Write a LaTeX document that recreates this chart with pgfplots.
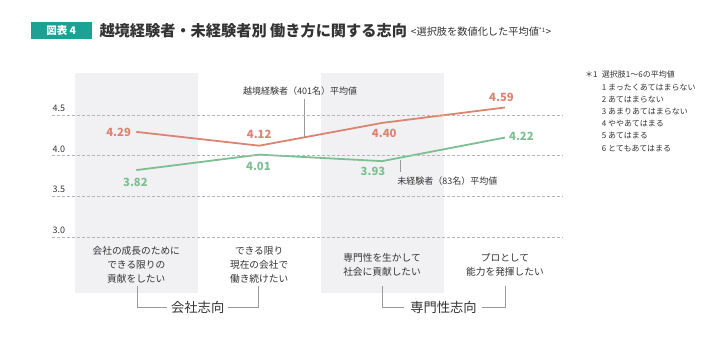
\documentclass[border=0pt]{standalone}
\usepackage{fontspec}
\setmainfont{Noto Sans CJK JP}
\usepackage{pgfplots}
\pgfplotsset{compat=1.18}
\definecolor{orangeL}{HTML}{DB8472}
\definecolor{greenL}{HTML}{7DBF92}
\definecolor{teal4}{HTML}{1AA295}
\definecolor{bandgray}{HTML}{F1F1F3}
\definecolor{gridgray}{HTML}{B4B4B4}
\definecolor{txt}{HTML}{333333}
\definecolor{brk}{HTML}{9A9A9A}
\begin{document}
\begin{tikzpicture}[x=1pt,y=1pt]
\useasboundingbox (0,0) rectangle (728,355);
\fill[teal4] (30.7,316) rectangle (91.7,332.7);
\node[white,font=\fontsize{10.5}{11}\selectfont\bfseries, inner sep=0pt] at (61.2,324.3) {図表 4};
\node[anchor=base west, inner sep=0pt, font=\fontsize{15.2}{16}\selectfont\bfseries, txt] at (99.3,318) {越境経験者・未経験者別 働き方に関する志向};
\node[anchor=base west, inner sep=0pt, font=\fontsize{10.2}{11}\selectfont, txt] at (410.7,319) {<選択肢を数値化した平均値\textsuperscript{\fontsize{6}{6}\selectfont *1}>};
% note
\begin{scope}[every node/.style={anchor=base west, inner sep=0pt, font=\fontsize{8}{9}\selectfont, txt}]
\node at (585,277) {＊1};
\node at (601.7,277) {選択肢1〜6の平均値};
\node at (601.7,264.8) {1 まったくあてはまらない};
\node at (601.7,252.6) {2 あてはまらない};
\node at (601.7,240.4) {3 あまりあてはまらない};
\node at (601.7,228.2) {4 ややあてはまる};
\node at (601.7,216) {5 あてはまる};
\node at (601.7,203.8) {6 とてもあてはまる};
\end{scope}
\begin{axis}[
  at={(42.7,45.37)}, anchor=south west,
  scale only axis, width=511pt, height=252.1pt,
  xmin=-0.682, xmax=3.476, ymin=2.0, ymax=5.1,
  axis line style={draw=none},
  xtick=\empty, ytick={3,3.5,4,4.5},
  major tick length=0pt,
  ymajorgrids,
  major grid style={densely dashed, gridgray, line width=0.5pt},
  yticklabel style={anchor=south west, inner sep=0pt, yshift=2.8pt, font=\fontsize{9}{10}\selectfont, text=txt,
    /pgf/number format/.cd, fixed, fixed zerofill, precision=1, assume math mode=true},
  clip=false, axis on top,
]
\addplot[fill=bandgray, draw=none] coordinates {(-0.5,2.309) (0.5,2.309) (0.5,5.02) (-0.5,5.02)} -- cycle;
\addplot[fill=bandgray, draw=none] coordinates {(1.5,2.309) (2.5,2.309) (2.5,5.02) (1.5,5.02)} -- cycle;
\addplot[orangeL, line width=1.8pt, mark=none] coordinates {(0,4.29)(1,4.12)(2,4.40)(3,4.59)};
\addplot[greenL, line width=1.8pt, mark=none] coordinates {(0,3.82)(1,4.01)(2,3.93)(3,4.22)};
% value labels
\begin{scope}[every node/.style={font=\fontsize{11.3}{12}\selectfont\bfseries, inner sep=0pt}]
\node[orangeL, anchor=east] at (axis cs:-0.042,4.285) {4.29};
\node[orangeL] at (axis cs:1,4.262) {4.12};
\node[orangeL] at (axis cs:2.018,4.270) {4.40};
\node[orangeL] at (axis cs:2.972,4.713) {4.59};
\node[greenL] at (axis cs:-0.007,3.674) {3.82};
\node[greenL] at (axis cs:0.994,3.861) {4.01};
\node[greenL] at (axis cs:1.926,3.799) {3.93};
\node[greenL] at (axis cs:3.134,4.233) {4.22};
\end{scope}
% series annotations
\node[font=\fontsize{9}{10}\selectfont, txt, inner sep=0pt] at (axis cs:1.334,4.795) {越境経験者（401名）平均値};
\draw[brk, line width=0.5pt] (axis cs:1.369,4.70) -- (axis cs:1.369,4.233);
\node[font=\fontsize{9}{10}\selectfont, txt, inner sep=0pt] at (axis cs:2.532,3.689) {未経験者（83名）平均値};
\draw[brk, line width=0.5pt] (axis cs:2.147,3.947) -- (axis cs:2.147,3.791);
% category labels
\begin{scope}[every node/.style={font=\fontsize{9.7}{14}\selectfont, align=center, txt, inner sep=0pt}]
\node at (axis cs:0,2.652) {会社の成長のために\\できる限りの\\貢献をしたい};
\node at (axis cs:1,2.652) {できる限り\\現在の会社で\\働き続けたい};
\node at (axis cs:2,2.652) {専門性を生かして\\社会に貢献したい};
\node at (axis cs:3,2.652) {プロとして\\能力を発揮したい};
\end{scope}
% brackets
\draw[brk, line width=0.6pt] (axis cs:0.01,2.389) -- (axis cs:0.01,2.131) -- (axis cs:0.246,2.131);
\draw[brk, line width=0.6pt] (axis cs:0.750,2.131) -- (axis cs:0.994,2.131) -- (axis cs:0.994,2.389);
\node[font=\fontsize{13.3}{14}\selectfont, txt, inner sep=0pt] at (axis cs:0.5,2.131) {会社志向};
\draw[brk, line width=0.6pt] (axis cs:1.998,2.389) -- (axis cs:1.998,2.131) -- (axis cs:2.182,2.131);
\draw[brk, line width=0.6pt] (axis cs:2.809,2.131) -- (axis cs:3.002,2.131) -- (axis cs:3.002,2.389);
\node[font=\fontsize{13.3}{14}\selectfont, txt, inner sep=0pt] at (axis cs:2.5,2.131) {専門性志向};
\end{axis}
\end{tikzpicture}
\end{document}
